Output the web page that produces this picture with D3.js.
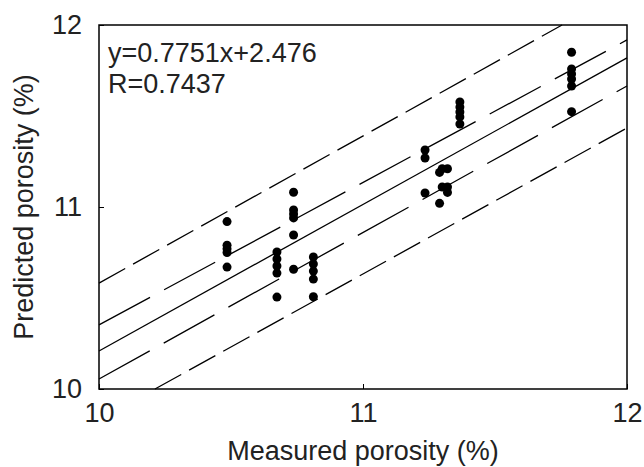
<!DOCTYPE html>
<html>
<head>
<meta charset="utf-8">
<script src="https://cdn.jsdelivr.net/npm/d3@7"></script>
<style>
  body { margin: 0; background: #fff; }
  text { font-family: "Liberation Sans", Arial, sans-serif; fill: #222; }
</style>
</head>
<body>
<div id="chart"></div>
<script>
// Data
const measured = [
  10.485, 10.485, 10.485, 10.485, 10.485,
  10.674, 10.674, 10.674, 10.674, 10.674,
  10.737, 10.737, 10.737, 10.737, 10.737, 10.737,
  10.812, 10.812, 10.812, 10.812, 10.812,
  11.235, 11.235, 11.235,
  11.30, 11.32, 11.29, 11.30, 11.32, 11.32, 11.29,
  11.367, 11.367, 11.367, 11.367, 11.367,
  11.79, 11.79, 11.79, 11.79, 11.79, 11.79
]
const predicted = [
  10.92, 10.79, 10.77, 10.75, 10.67,
  10.753, 10.714, 10.676, 10.637, 10.505,
  11.081, 10.984, 10.962, 10.940, 10.846, 10.658,
  10.725, 10.687, 10.648, 10.604, 10.507,
  11.313, 11.269, 11.077,
  11.21, 11.21, 11.19, 11.11, 11.11, 11.08, 11.02,
  11.577, 11.549, 11.522, 11.495, 11.456,
  11.85, 11.758, 11.731, 11.703, 11.665, 11.524
]

// fitted line, confidence and prediction bands (end points)
const fitLine = [[10, 10.209], [12, 11.819]]
const upperConf = [[10, 10.352], [12, 11.918]]
const lowerConf = [[10, 10.055], [12, 11.665]]
const upperPred = [[10, 10.582], [11.754, 12]]
const lowerPred = [[10.212, 10], [12, 11.434]]

const xTicks = [10, 11, 12]
const yTicks = [10, 11, 12]
const equationLines = ['y=0.7751x+2.476', 'R=0.7437']

// Dimensions
const dimensions = {
  width: 644,
  height: 467,
  left: 99,
  right: 627,
  top: 25,
  bottom: 389
}

const svg = d3.select('#chart')
  .append('svg')
  .attr('width', dimensions.width)
  .attr('height', dimensions.height)

// Scales
const xScale = d3.scaleLinear()
  .domain([10, 12])
  .range([dimensions.left, dimensions.right])
const yScale = d3.scaleLinear()
  .domain([10, 12])
  .range([dimensions.bottom, dimensions.top])

// Lines
const line = d3.line()
  .x(d => xScale(d[0]))
  .y(d => yScale(d[1]))

const lines = [
  { data: fitLine, dash: null },
  { data: upperConf, dash: '58,16' },
  { data: lowerConf, dash: '58,16' },
  { data: upperPred, dash: '30,9' },
  { data: lowerPred, dash: '30,9' }
]

svg.append('g')
  .selectAll('path')
  .data(lines)
  .join('path')
  .attr('d', d => line(d.data))
  .attr('fill', 'none')
  .attr('stroke', '#000')
  .attr('stroke-width', 1.3)
  .attr('stroke-dasharray', d => d.dash)

// Points
svg.append('g')
  .selectAll('circle')
  .data(measured)
  .join('circle')
  .attr('cx', d => xScale(d))
  .attr('cy', (d, i) => yScale(predicted[i]))
  .attr('r', 4.5)
  .attr('fill', '#000')

// Axes (frame with inward ticks)
const xAxis = d3.axisBottom(xScale)
  .tickValues(xTicks)
  .tickSizeInner(-5)
  .tickSizeOuter(0)
  .tickPadding(14)
  .tickFormat(d3.format('d'))
const yAxis = d3.axisLeft(yScale)
  .tickValues(yTicks)
  .tickSizeInner(-5)
  .tickSizeOuter(0)
  .tickPadding(17)
  .tickFormat(d3.format('d'))

const xAxisGroup = svg.append('g')
  .attr('transform', `translate(0, ${dimensions.bottom})`)
  .call(xAxis)
const yAxisGroup = svg.append('g')
  .attr('transform', `translate(${dimensions.left}, 0)`)
  .call(yAxis)

svg.selectAll('.domain').remove()
svg.selectAll('.tick line').attr('stroke', '#000')
svg.selectAll('.tick text')
  .attr('font-size', 27)
  .attr('fill', '#222')
  .attr('font-family', '"Liberation Sans", Arial, sans-serif')
xAxisGroup.selectAll('.tick text').attr('dy', '0.71em')

svg.append('rect')
  .attr('x', dimensions.left)
  .attr('y', dimensions.top)
  .attr('width', dimensions.right - dimensions.left)
  .attr('height', dimensions.bottom - dimensions.top)
  .attr('fill', 'none')
  .attr('stroke', '#000')
  .attr('stroke-width', 1.5)

// Labels
svg.append('text')
  .attr('x', (dimensions.left + dimensions.right) / 2)
  .attr('y', 460)
  .attr('text-anchor', 'middle')
  .attr('font-size', 27)
  .text('Measured porosity (%)')

svg.append('text')
  .attr('transform', `translate(33, ${(dimensions.top + dimensions.bottom) / 2}) rotate(-90)`)
  .attr('text-anchor', 'middle')
  .attr('font-size', 27)
  .text('Predicted porosity (%)')

svg.append('g')
  .selectAll('text')
  .data(equationLines)
  .join('text')
  .attr('x', 108)
  .attr('y', (d, i) => 62 + i * 31)
  .attr('font-size', 27)
  .text(d => d)
</script>
</body>
</html>
